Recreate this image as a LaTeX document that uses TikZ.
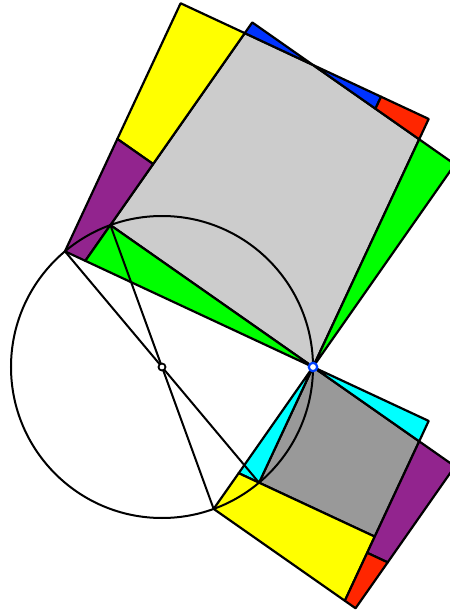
\documentclass[tikz,border=0pt]{standalone}
\usetikzlibrary{calc}
\definecolor{yelF}{RGB}{255,255,0}
\definecolor{purF}{RGB}{146,36,142}
\definecolor{greF}{RGB}{0,255,0}
\definecolor{bluF}{RGB}{0,51,255}
\definecolor{redF}{RGB}{255,38,0}
\definecolor{cyaF}{RGB}{0,255,255}
\definecolor{grayL}{RGB}{204,204,204}
\definecolor{grayD}{RGB}{153,153,153}
\definecolor{ptBlue}{RGB}{0,64,255}
\begin{document}
\begin{tikzpicture}[x=1pt,y=1pt,
  piece/.style={draw=black, line width=2.2pt, line join=round},
  thinline/.style={draw=black, line width=2pt}]
\useasboundingbox (-162,-244) rectangle (288,367);
\clip (-162,-244) rectangle (288,367);
% points on the circle
\coordinate (O) at (0,0);
\coordinate (A) at (130:151);
\coordinate (B) at (110:151);
\coordinate (P) at (0:151);
\coordinate (C) at (290:151);
\coordinate (D) at (310:151);
% squares
\coordinate (A1) at ($(A)!1!90:(P)$);
\coordinate (P1) at ($(P)!1!-90:(A)$);
\coordinate (B1) at ($(B)!1!90:(P)$);
\coordinate (P2) at ($(P)!1!-90:(B)$);
\coordinate (Q1) at ($(P)!1!90:(D)$);
\coordinate (Q2) at ($(D)!1!-90:(P)$);
\coordinate (R1) at ($(P)!1!90:(C)$);
\coordinate (R2) at ($(C)!1!-90:(P)$);
% upper construction points
\coordinate (E) at (intersection of B--B1 and A--P);
\coordinate (M) at (intersection of B--B1 and A1--P1);
\coordinate (X) at (intersection of B1--P2 and A1--P1);
\coordinate (T) at (intersection of P--P1 and B1--P2);
\coordinate (K) at ($(A)!0.453!(A1)$);
\coordinate (L) at ($(B)!(K)!(B1)$);
\coordinate (U1) at ($(A1)!0.808!(P1)$);
\coordinate (U1b) at ($(U1)+(P1)-(P)$);
\coordinate (U2) at (intersection of U1--U1b and B1--P2);
% lower construction points
\coordinate (G) at (intersection of D--Q2 and P--C);
\coordinate (F) at (intersection of Q1--Q2 and C--R2);
\coordinate (J) at (intersection of Q1--Q2 and P--R1);
\coordinate (H) at ($(Q2)!-0.14!(Q1)$);
\coordinate (Hb) at ($(H)+(Q2)-(D)$);
\coordinate (I) at (intersection of H--Hb and R1--R2);
% upper pieces
\draw[piece, fill=grayL] (B) -- (P) -- (T) -- (X) -- (M) -- cycle;
\draw[piece, fill=yelF] (A1) -- (M) -- (L) -- (K) -- cycle;
\draw[piece, fill=purF] (A) -- (K) -- (L) -- (E) -- cycle;
\draw[piece, fill=greF] (B) -- (E) -- (P) -- cycle;
\draw[piece, fill=bluF] (M) -- (B1) -- (X) -- cycle;
\draw[piece, fill=bluF] (X) -- (U1) -- (U2) -- cycle;
\draw[piece, fill=redF] (U1) -- (P1) -- (T) -- (U2) -- cycle;
\draw[piece, fill=greF] (P) -- (P2) -- (T) -- cycle;
% lower pieces
\draw[piece, fill=grayD] (D) -- (P) -- (J) -- (Q2) -- cycle;
\draw[piece, fill=cyaF] (P) -- (Q1) -- (J) -- cycle;
\draw[piece, fill=cyaF] (P) -- (G) -- (D) -- cycle;
\draw[piece, fill=yelF] (G) -- (Q2) -- (F) -- (C) -- cycle;
\draw[piece, fill=purF] (Q2) -- (J) -- (R1) -- (I) -- (H) -- cycle;
\draw[piece, fill=redF] (H) -- (I) -- (R2) -- (F) -- cycle;
% circle and diameters
\draw[thinline] (O) circle (151);
\draw[thinline] (A) -- (D);
\draw[thinline] (B) -- (C);
% marked points
\draw[line width=1.8pt, draw=black, fill=white] (O) circle (3.5);
\draw[line width=2.2pt, draw=ptBlue, fill=white] (P) circle (4.2);
\end{tikzpicture}
\end{document}
